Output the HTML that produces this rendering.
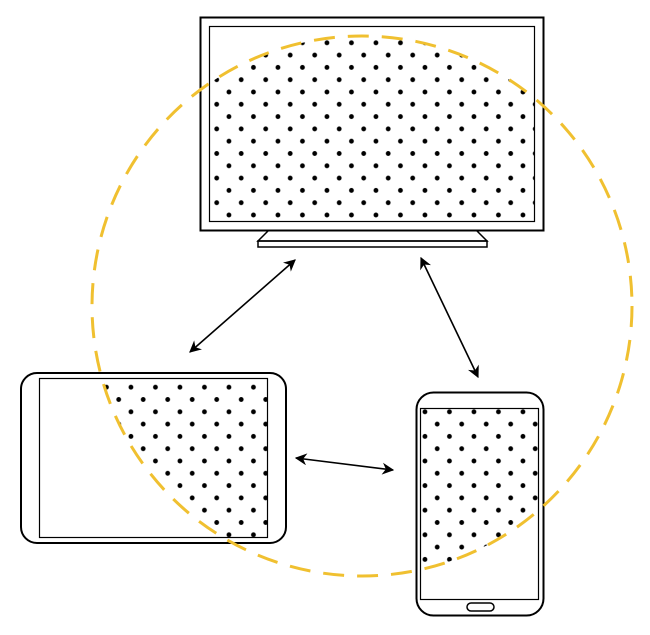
<!DOCTYPE html>
<html><head><style>body{margin:0;background:#fff}svg{display:block}</style></head><body>
<svg width="650" height="635" viewBox="0 0 650 635" xmlns="http://www.w3.org/2000/svg">
<defs>
<pattern id="dots" patternUnits="userSpaceOnUse" x="216.7" y="104.3" width="24.5" height="24.6">
<circle cx="0" cy="0" r="2.4" fill="#000"/><circle cx="24.5" cy="0" r="2.4" fill="#000"/>
<circle cx="0" cy="24.6" r="2.4" fill="#000"/><circle cx="24.5" cy="24.6" r="2.4" fill="#000"/>
<circle cx="12.25" cy="12.3" r="2.4" fill="#000"/>
</pattern>
<clipPath id="circ"><circle cx="362" cy="306" r="270"/></clipPath>
<marker id="ah" viewBox="0 0 10 10" refX="9" refY="5" markerWidth="12" markerHeight="12" orient="auto-start-reverse" markerUnits="userSpaceOnUse"><path d="M0,0 L10,5 L0,10 L3,5 z" fill="#000"/></marker>
</defs>
<g fill="none" stroke="#000">
<rect x="200.5" y="17.5" width="343" height="213" stroke-width="2"/>
<rect x="209.5" y="26.5" width="325" height="195" stroke-width="1.2"/>
<path d="M268,231 L258,241 L487,241 L477,231" stroke-width="1.5"/>
<rect x="258" y="241" width="229" height="6" stroke-width="1.5"/>
<rect x="21" y="373" width="265" height="170" rx="16" stroke-width="2"/>
<rect x="39.5" y="378.5" width="228" height="159" stroke-width="1.2"/>
<rect x="416.5" y="392.5" width="127" height="223" rx="17" stroke-width="2"/>
<rect x="420.5" y="408.5" width="118" height="191" stroke-width="1.2"/>
<rect x="467" y="603" width="27" height="8" rx="4" stroke-width="1.5"/>
</g>
<g clip-path="url(#circ)" fill="url(#dots)">
<rect x="210" y="27" width="324" height="194"/>
<rect x="40" y="379" width="227" height="158"/>
<rect x="421" y="409" width="117" height="190"/>
</g>
<circle cx="362" cy="306" r="270" fill="none" stroke="#f0c030" stroke-width="3" stroke-dasharray="21 13"/>
<g stroke="#000" stroke-width="1.6" marker-start="url(#ah)" marker-end="url(#ah)">
<line x1="295" y1="260" x2="190" y2="352"/>
<line x1="421" y1="258" x2="478" y2="377"/>
<line x1="296" y1="458" x2="393" y2="470"/>
</g>
</svg>
</body></html>
